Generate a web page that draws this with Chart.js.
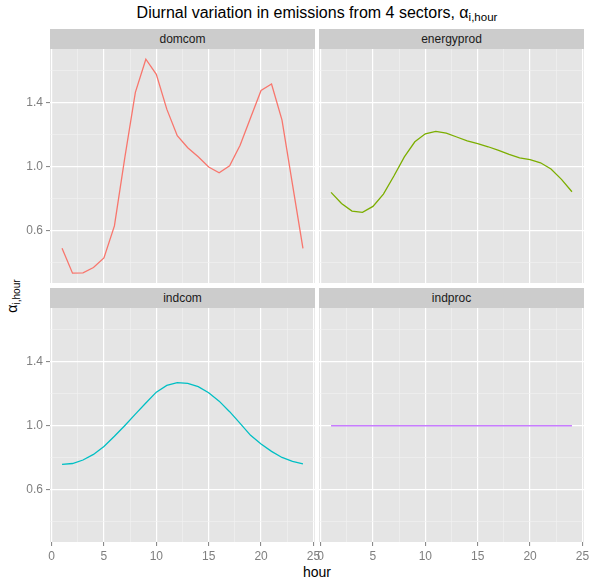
<!DOCTYPE html>
<html>
<head>
<meta charset="utf-8">
<script src="https://cdn.jsdelivr.net/npm/chart.js@4/dist/chart.umd.min.js"></script>
<style>
  body { margin: 0; background: #fff; font-family: "Liberation Sans", Arial, sans-serif; }
  #wrap { position: relative; width: 591px; height: 579px; overflow: hidden; }
  canvas { position: absolute; left: 0; top: 0; }
  .strip { position: absolute; height: 20px; line-height: 20px; background: #cccccc;
           color: #1a1a1a; font-size: 12px; text-align: center; }
  #title { position: absolute; left: 50px; width: 534px; top: 4px; text-align: center;
           font-size: 16px; color: #000; }
  #title sub, #ylab sub { font-size: 0.72em; vertical-align: -0.3em; }
  #xlab { position: absolute; left: 50px; width: 534px; top: 564px; text-align: center; font-size: 14px; }
  #ylab { position: absolute; left: 13px; top: 296px; font-size: 14px; white-space: nowrap;
          transform: translate(-50%, -50%) rotate(-90deg); }
</style>
</head>
<body>
<div id="wrap">
  <div id="title">Diurnal variation in emissions from 4 sectors, α<sub>i,hour</sub></div>
  <div id="ylab">α<sub>i,hour</sub></div>
  <div id="xlab">hour</div>
</div>
<script>
const hours = [1,2,3,4,5,6,7,8,9,10,11,12,13,14,15,16,17,18,19,20,21,22,23,24];
const sectors = ['domcom', 'energyprod', 'indcom', 'indproc'];
const colors = ['#F8766D', '#7CAE00', '#00BFC4', '#C77CFF'];

const domcom = [0.49,0.335,0.337,0.37,0.43,0.63,1.06,1.465,1.672,1.578,1.36,1.194,1.119,1.062,0.998,0.962,1.006,1.134,1.306,1.477,1.517,1.292,0.89,0.49];
const energyprod = [0.84,0.771,0.723,0.715,0.752,0.829,0.942,1.062,1.156,1.206,1.221,1.21,1.186,1.162,1.144,1.125,1.102,1.077,1.056,1.044,1.025,0.986,0.921,0.844];
const indcom = [0.759,0.764,0.786,0.821,0.871,0.934,1.002,1.073,1.142,1.21,1.252,1.269,1.265,1.244,1.206,1.154,1.088,1.015,0.94,0.886,0.84,0.802,0.777,0.762];
const indproc = [1,1,1,1,1,1,1,1,1,1,1,1,1,1,1,1,1,1,1,1,1,1,1,1];
const seriesValues = [domcom, energyprod, indcom, indproc];

const xMajor = [0, 5, 10, 15, 20, 25];
const xMinor = [2.5, 7.5, 12.5, 17.5, 22.5];
const yMajor = [0.6, 1.0, 1.4];
const yMinor = [0.4, 0.8, 1.2, 1.6];
const xRange = [-0.15, 25.15];
const yRange = [0.2735, 1.736];

// panel boxes: left, top, right, bottom
const panels = [
  { l: 50, t: 49, r: 315, b: 283, showY: true, showX: false },
  { l: 319, t: 49, r: 584, b: 283, showY: false, showX: false },
  { l: 50, t: 308, r: 315, b: 542, showY: true, showX: true },
  { l: 319, t: 308, r: 584, b: 542, showY: false, showX: true }
];

const W = 591, H = 579;
const wrap = document.getElementById('wrap');

function isMajor(list, v) {
  return list.some(m => Math.abs(m - v) < 1e-6);
}

const panelBg = {
  id: 'panelBg',
  beforeDraw(chart) {
    const a = chart.chartArea;
    const c = chart.ctx;
    c.save();
    c.fillStyle = '#e5e5e5';
    c.fillRect(a.left, a.top, a.right - a.left, a.bottom - a.top);
    c.restore();
  }
};

panels.forEach((p, i) => {
  const strip = document.createElement('div');
  strip.className = 'strip';
  strip.style.left = p.l + 'px';
  strip.style.top = (p.t - 20) + 'px';
  strip.style.width = (p.r - p.l) + 'px';
  strip.textContent = sectors[i];
  wrap.appendChild(strip);

  const cv = document.createElement('canvas');
  cv.width = W; cv.height = H;
  cv.style.width = W + 'px'; cv.style.height = H + 'px';
  wrap.appendChild(cv);

  const yW = p.showY ? 50 : 0;
  const xH = p.showX ? 20 : 0;

  new Chart(cv.getContext('2d'), {
    type: 'line',
    data: {
      datasets: [{
        data: hours.map((h, k) => ({ x: h, y: seriesValues[i][k] })),
        borderColor: colors[i],
        borderWidth: 1.3,
        pointRadius: 0,
        tension: 0,
        fill: false
      }]
    },
    options: {
      responsive: false,
      animation: false,
      events: [],
      layout: {
        autoPadding: false,
        padding: { left: p.l - yW, top: p.t, right: W - p.r, bottom: H - p.b - xH }
      },
      plugins: { legend: { display: false }, tooltip: { enabled: false } },
      scales: {
        x: {
          type: 'linear',
          min: xRange[0], max: xRange[1],
          afterBuildTicks: s => { s.ticks = xMajor.concat(xMinor).map(v => ({ value: v })); },
          afterFit: s => { s.height = xH; },
          border: { display: false },
          grid: {
            color: c => isMajor(xMajor, c.tick.value) ? '#ffffff' : '#f2f2f2',
            lineWidth: c => isMajor(xMajor, c.tick.value) ? 1.2 : 0.6,
            drawTicks: p.showX,
            tickLength: 4,
            tickColor: c => isMajor(xMajor, c.tick.value) ? '#7f7f7f' : 'rgba(0,0,0,0)',
            tickWidth: 1
          },
          ticks: {
            display: p.showX,
            autoSkip: false,
            maxRotation: 0,
            padding: 3,
            color: '#7f7f7f',
            font: { family: '"Liberation Sans", Arial, sans-serif', size: 12 },
            callback: v => isMajor(xMajor, v) ? String(v) : ''
          }
        },
        y: {
          type: 'linear',
          min: yRange[0], max: yRange[1],
          afterBuildTicks: s => { s.ticks = yMajor.concat(yMinor).map(v => ({ value: v })); },
          afterFit: s => { s.width = yW; },
          border: { display: false },
          grid: {
            color: c => isMajor(yMajor, c.tick.value) ? '#ffffff' : '#f2f2f2',
            lineWidth: c => isMajor(yMajor, c.tick.value) ? 1.2 : 0.6,
            drawTicks: p.showY,
            tickLength: 4,
            tickColor: c => isMajor(yMajor, c.tick.value) ? '#7f7f7f' : 'rgba(0,0,0,0)',
            tickWidth: 1
          },
          ticks: {
            display: p.showY,
            autoSkip: false,
            padding: 3,
            color: '#7f7f7f',
            font: { family: '"Liberation Sans", Arial, sans-serif', size: 12 },
            callback: v => isMajor(yMajor, v) ? v.toFixed(1) : ''
          }
        }
      }
    },
    plugins: [panelBg]
  });
});
</script>
</body>
</html>
